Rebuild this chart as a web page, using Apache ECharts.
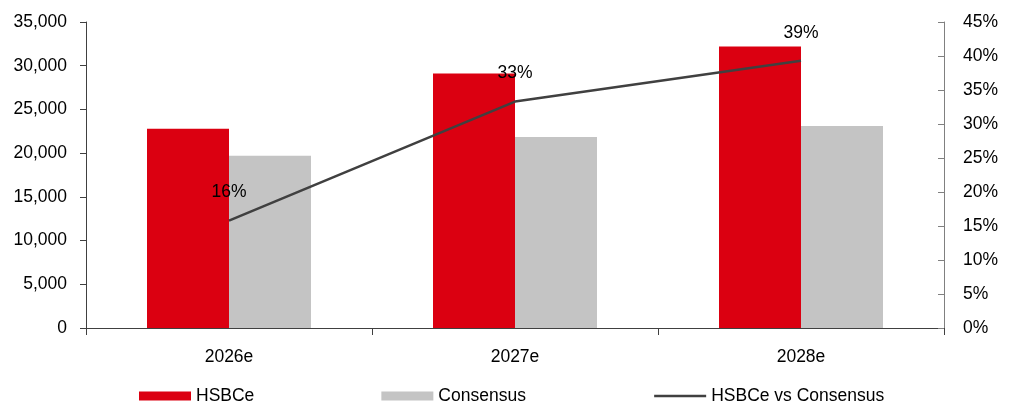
<!DOCTYPE html>
<html>
<head>
<meta charset="utf-8">
<script src="https://cdn.jsdelivr.net/npm/echarts@6/dist/echarts.min.js"></script>
<style>html,body{margin:0;padding:0;background:#fff}#c{width:1014px;height:406px}</style>
</head>
<body>
<div id="c"></div>
<script>
const categories = ['2026e', '2027e', '2028e'];
const hsbce = [22800, 29100, 32200];
const consensus = [19700, 21850, 23100];
const hsbceVsConsensus = [15.8, 33.3, 39.3];
const seriesNames = ['HSBCe', 'Consensus', 'HSBCe vs Consensus'];

const FONT = '"Liberation Sans", Arial, sans-serif';
const FS = 17.5;
const chart = echarts.init(document.getElementById('c'), null, {renderer: 'canvas'});
chart.setOption({
  animation: false,
  textStyle: {fontFamily: FONT, fontSize: FS, color: '#000'},
  grid: {left: 86, right: 70, top: 22, bottom: 78, containLabel: false},
  legend: {
    left: 139, top: 387, padding: 0, itemWidth: 52, itemHeight: 9, itemGap: 127,
    textStyle: {fontFamily: FONT, fontSize: FS, color: '#000'},
    data: [
      {name: seriesNames[0], icon: 'rect'},
      {name: seriesNames[1], icon: 'rect'},
      {name: seriesNames[2], itemStyle: {opacity: 0}, lineStyle: {color: '#404040', width: 2.5}}
    ]
  },
  xAxis: {
    type: 'category', data: categories,
    axisLine: {lineStyle: {color: '#404040', width: 1}},
    axisTick: {show: true, length: 7, lineStyle: {color: '#404040'}},
    axisLabel: {margin: 20, fontFamily: FONT, fontSize: FS, color: '#000'}
  },
  yAxis: [
    {
      type: 'value', min: 0, max: 35000, interval: 5000,
      axisLine: {show: true, lineStyle: {color: '#404040'}},
      axisTick: {show: true, length: 6, lineStyle: {color: '#404040'}},
      splitLine: {show: false},
      axisLabel: {margin: 19, fontFamily: FONT, fontSize: FS, color: '#000',
        formatter: v => v.toLocaleString('en-US')}
    },
    {
      type: 'value', min: 0, max: 45, interval: 5, position: 'right',
      axisLine: {show: true, lineStyle: {color: '#808080'}},
      axisTick: {show: true, inside: true, length: 6, lineStyle: {color: '#808080'}},
      splitLine: {show: false},
      axisLabel: {margin: 19, fontFamily: FONT, fontSize: FS, color: '#000',
        formatter: v => v + '%'}
    }
  ],
  series: [
    {name: seriesNames[0], type: 'bar', data: hsbce, barWidth: 82, barGap: '0%',
      itemStyle: {color: '#DB0011'}},
    {name: seriesNames[1], type: 'bar', data: consensus, barWidth: 82,
      itemStyle: {color: '#C4C4C4'}},
    {name: seriesNames[2], type: 'line', yAxisIndex: 1, data: hsbceVsConsensus,
      symbol: 'none', lineStyle: {color: '#404040', width: 2.5}, itemStyle: {color: '#404040'},
      markPoint: {
        symbol: 'circle', symbolSize: 0, silent: true,
        label: {show: true, position: 'top', distance: 19, fontFamily: FONT, fontSize: FS, color: '#000',
          formatter: p => Math.round(p.value) + '%'},
        data: categories.map((c, i) => ({coord: [c, hsbceVsConsensus[i]], value: hsbceVsConsensus[i]}))
      }}
  ]
});
</script>
</body>
</html>
